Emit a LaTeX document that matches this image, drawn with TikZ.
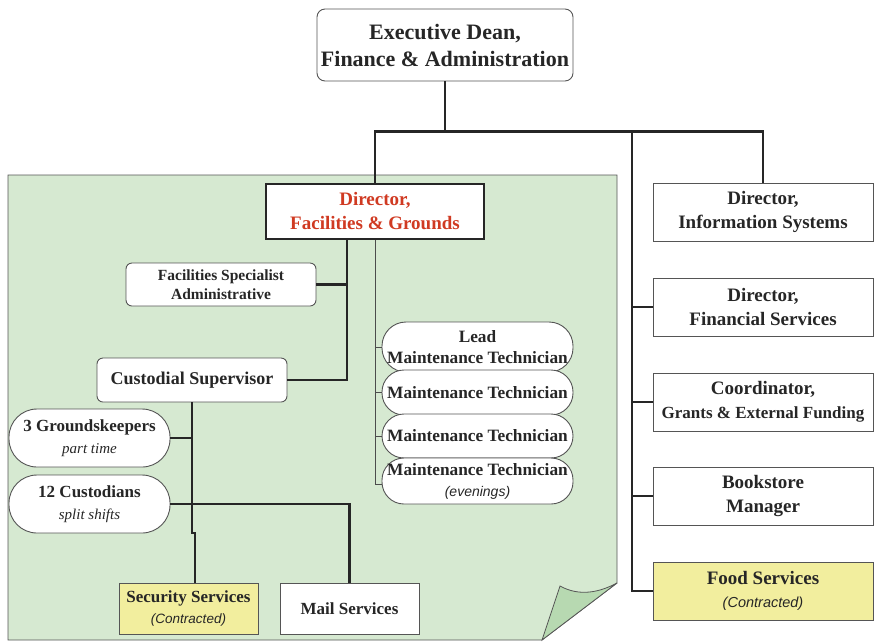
\documentclass[tikz,border=0pt]{standalone}
\usepackage{fontspec}
\setmainfont{Liberation Serif}
\newfontfamily\notefont{Liberation Sans}
\definecolor{pagegreen}{HTML}{D6E9D1}
\definecolor{flapgreen}{HTML}{B7D9B1}
\definecolor{contractyellow}{HTML}{F2EE9E}
\definecolor{dirred}{HTML}{D03A22}
\definecolor{boxline}{HTML}{555555}
\tikzset{
  post/.style={draw=boxline,line width=0.9pt,fill=white,align=center,font=\bfseries,text=black!85,inner sep=2pt},
  roundpost/.style={post,rounded corners=6pt},
  pill/.style={post,rounded corners=22pt},
  contracted/.style={post,fill=contractyellow},
  link/.style={line width=2.6pt,black!85},
  thinlink/.style={line width=0.8pt,black!70}
}
\newcommand{\note}[1]{{\notefont\itshape\mdseries #1}}
\newcommand{\shiftnote}[1]{{\itshape\mdseries #1}}
\begin{document}
\begin{tikzpicture}[x=1pt,y=-1pt]
\useasboundingbox (0,0) rectangle (874,641);
% folded page behind the facilities group
\draw[boxline,line width=0.8pt,fill=pagegreen] (8,175)--(617,175)--(617,583)--(542,640)--(8,640)--cycle;
\draw[boxline,line width=0.8pt,fill=flapgreen] (560,586) .. controls (580,597) and (600,592) .. (617,583)--(542,640)--cycle;
% top
\node[roundpost,minimum width=256pt,minimum height=72pt,rounded corners=8pt,font=\bfseries\fontsize{22}{27}\selectfont] (dean) at (445,45) {Executive Dean,\\Finance \& Administration};
\coordinate (bus) at (445,132);
% facilities group
\node[post,draw=black!85,line width=2.6pt,minimum width=218pt,minimum height=55pt,text=dirred,font=\bfseries\fontsize{19}{24}\selectfont] (dirfac) at (375,211.5) {Director,\\Facilities \& Grounds};
\node[roundpost,minimum width=190pt,minimum height=43pt,font=\bfseries\fontsize{15.5}{19}\selectfont] (facspec) at (221,284.5) {Facilities Specialist\\Administrative};
\node[roundpost,minimum width=190pt,minimum height=44pt,font=\bfseries\fontsize{18}{20}\selectfont] (custsup) at (192,380) {Custodial Supervisor};
\node[pill,minimum width=161pt,minimum height=58pt,rounded corners=28pt,font=\bfseries\fontsize{17}{22}\selectfont] (grounds) at (89.5,438) {3 Groundskeepers\\\shiftnote{\fontsize{15}{17}\selectfont part time}};
\node[pill,minimum width=161pt,minimum height=58pt,rounded corners=28pt,font=\bfseries\fontsize{17}{22}\selectfont] (custod) at (89.5,504) {12 Custodians\\\shiftnote{\fontsize{15}{17}\selectfont split shifts}};
\node[contracted,minimum width=139pt,minimum height=51pt,font=\bfseries\fontsize{17}{21}\selectfont] (security) at (188.5,608.5) {Security Services\\\note{\fontsize{13.5}{17}\selectfont (Contracted)}};
\node[post,minimum width=139pt,minimum height=51pt,font=\bfseries\fontsize{17}{20}\selectfont] (mail) at (349.5,608.5) {Mail Services};
\node[pill,minimum width=191pt,minimum height=50pt,rounded corners=24pt,font=\bfseries\fontsize{17.3}{21}\selectfont] (mtlead) at (477.5,347) {Lead\\Maintenance Technician};
\node[pill,minimum width=191pt,minimum height=45pt,font=\bfseries\fontsize{17.3}{20}\selectfont] (mttwo) at (477.5,392.5) {Maintenance Technician};
\node[pill,minimum width=191pt,minimum height=44pt,font=\bfseries\fontsize{17.3}{20}\selectfont] (mtthree) at (477.5,436) {Maintenance Technician};
\node[pill,minimum width=191pt,minimum height=46pt,font=\bfseries\fontsize{17.3}{21}\selectfont] (mtfour) at (477.5,481) {Maintenance Technician\\\note{\fontsize{14}{17}\selectfont (evenings)}};
% right column
\node[post,minimum width=220pt,minimum height=58pt,font=\bfseries\fontsize{19}{24}\selectfont] (infosys) at (763,212) {Director,\\Information Systems};
\node[post,minimum width=220pt,minimum height=58pt,font=\bfseries\fontsize{19}{24}\selectfont] (finserv) at (763,307) {Director,\\Financial Services};
\node[post,minimum width=220pt,minimum height=58pt,font=\bfseries\fontsize{19}{24}\selectfont] (grants) at (763,402) {Coordinator,\\\fontsize{17}{20}\selectfont Grants \& External Funding};
\node[post,minimum width=220pt,minimum height=58pt,font=\bfseries\fontsize{19}{24}\selectfont] (books) at (763,496) {Bookstore\\Manager};
\node[contracted,minimum width=220pt,minimum height=58pt,font=\bfseries\fontsize{19}{23}\selectfont] (food) at (763,591) {Food Services\\\note{\fontsize{14.5}{17}\selectfont (Contracted)}};
% connectors
\coordinate (fspine) at (347,240);
\coordinate (rspine) at (632,132);
\coordinate (jog) at (195,533);
\draw[link] (dean.south) -- (bus);
\draw[link] (dirfac.north) -- ++(0,-51) -| (infosys.north);
\draw[link] (rspine) |- (food.west);
\foreach \n in {finserv,grants,books}
  \draw[link] (rspine |- \n.west) -- (\n.west);
\draw[link] (fspine) |- (custsup.east);
\draw[link] (fspine |- facspec.east) -- (facspec.east);
\draw[thinlink] (dirfac.south) |- ([yshift=-3pt]mtfour.west);
\foreach \n in {mtlead,mttwo,mtthree}
  \draw[thinlink] (dirfac.south |- \n.west) -- (\n.west);
\draw[link] (custsup.south) |- (jog) -- (jog |- security.north);
\draw[link] (grounds.east) -- (grounds.east -| custsup.south);
\draw[link] (custod.east) -| (mail.north);
\end{tikzpicture}
\end{document}
